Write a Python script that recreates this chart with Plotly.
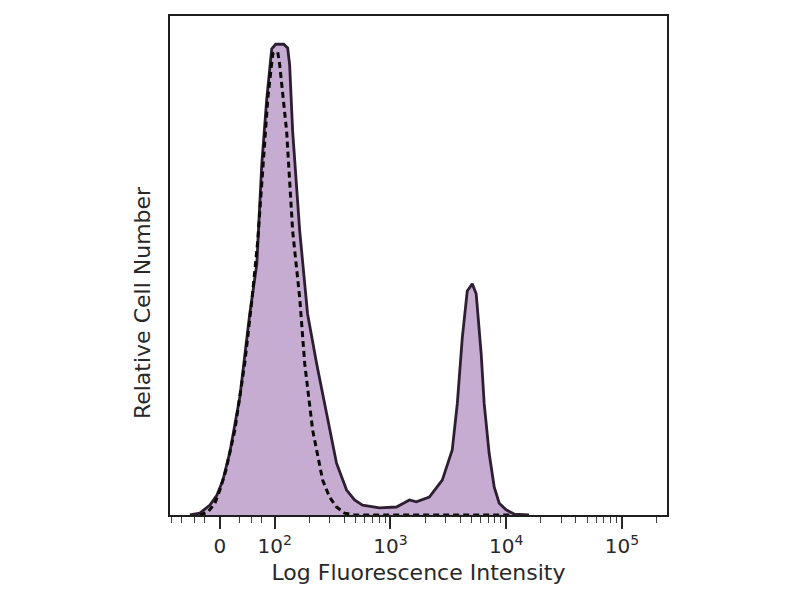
"""Flow cytometry histogram: stained (filled) vs isotype control (dashed)."""

import plotly.graph_objects as go

# display position in decades on the biexponential axis, relative cell counts
stained_pos = [1.267, 1.353, 1.440, 1.500, 1.552, 1.612, 1.698, 1.784, 1.845, 1.888,
               1.931, 1.974, 2.009, 2.078, 2.112, 2.129, 2.155, 2.216, 2.284, 2.362,
               2.448, 2.534, 2.621, 2.690, 2.759, 2.905, 3.052, 3.164, 3.224, 3.336,
               3.448, 3.534, 3.578, 3.621, 3.664, 3.707, 3.741, 3.784, 3.810, 3.853,
               3.897, 3.940, 4.000, 4.069, 4.198]
stained_count = [0.0, 0.4, 2.1, 4.2, 7.4, 13.3, 25.0, 42.7, 53.3, 74.5,
                 88.4, 99.0, 100.0, 100.0, 99.2, 95.6, 81.5, 60.3, 42.7, 32.2,
                 21.6, 11.0, 5.3, 3.2, 2.1, 1.5, 1.7, 3.2, 2.8, 3.8,
                 7.4, 13.8, 23.7, 37.7, 47.6, 49.1, 47.0, 34.3, 23.7, 13.1,
                 5.9, 2.5, 1.1, 0.2, 0.0]

control_pos = [1.353, 1.422, 1.483, 1.526, 1.578, 1.655, 1.741, 1.802, 1.853, 1.897,
               1.940, 1.983, 2.026, 2.043, 2.103, 2.155, 2.216, 2.259, 2.328, 2.414,
               2.474, 2.534, 2.603, 2.690, 4.030]
control_count = [0.0, 0.6, 2.5, 5.3, 9.5, 18.0, 32.2, 45.5, 58.2, 74.5,
                 88.4, 98.0, 98.4, 95.6, 81.5, 60.3, 46.1, 32.2, 18.0, 7.4,
                 3.8, 1.7, 0.4, 0.0, 0.0]

tick_pos = [1.526, 2, 3, 4, 5]
tick_text = ["0", "10<sup>2</sup>", "10<sup>3</sup>", "10<sup>4</sup>", "10<sup>5</sup>"]
minor_pos = [1.112, 1.198, 1.310, 1.397, 1.698, 1.802, 1.888,
             2.301, 2.477, 2.602, 2.699, 2.778, 2.845, 2.903, 2.954,
             3.301, 3.477, 3.602, 3.699, 3.778, 3.845, 3.903, 3.954,
             4.301, 4.477, 4.602, 4.699, 4.778, 4.845, 4.903, 4.954, 5.301]

FILL = "rgb(198,172,208)"
FONT = "DejaVu Sans"
TEXT = "rgb(40,40,40)"

fig = go.Figure()
fig.add_trace(
    go.Scatter(
        x=stained_pos,
        y=stained_count,
        mode="lines",
        fill="tozeroy",
        fillcolor=FILL,
        line=dict(color="rgb(45,30,50)", width=2.8),
        showlegend=False,
    )
)
fig.add_trace(
    go.Scatter(
        x=control_pos,
        y=control_count,
        mode="lines",
        line=dict(color="rgb(10,10,10)", width=3, dash="6px,4px"),
        showlegend=False,
    )
)

# the page body has an 8px margin, so margins are shifted to land the frame in place
fig.update_layout(
    width=800,
    height=600,
    margin=dict(l=162, r=141, t=6, b=93),
    paper_bgcolor="white",
    plot_bgcolor="white",
    font=dict(family=FONT, color=TEXT),
    xaxis=dict(
        range=[1.095, 5.39],
        tickmode="array",
        tickvals=tick_pos,
        ticktext=tick_text,
        ticks="outside",
        ticklen=12,
        tickwidth=1.5,
        tickcolor=TEXT,
        tickfont=dict(size=20),
        ticklabelstandoff=0,
        minor=dict(tickmode="array", tickvals=minor_pos, ticks="outside",
                   ticklen=6, tickwidth=1.2, tickcolor="rgb(60,60,60)"),
        showgrid=False,
        zeroline=False,
        showline=True,
        linecolor="rgb(30,30,30)",
        linewidth=2,
        mirror=True,
        title=dict(text="Log Fluorescence Intensity", font=dict(size=22), standoff=8),
    ),
    yaxis=dict(
        range=[0, 106],
        showticklabels=False,
        ticks="",
        showgrid=False,
        zeroline=False,
        showline=True,
        linecolor="rgb(30,30,30)",
        linewidth=2,
        mirror=True,
    ),
    # y title sits below the plot centre in the reference, so it is placed by hand
    annotations=[
        dict(
            text="Relative Cell Number",
            textangle=-90,
            xref="paper",
            yref="paper",
            x=-0.054,
            y=0.425,
            xanchor="center",
            yanchor="middle",
            showarrow=False,
            font=dict(size=22, color=TEXT),
        )
    ],
)

fig.write_html("out.html")
